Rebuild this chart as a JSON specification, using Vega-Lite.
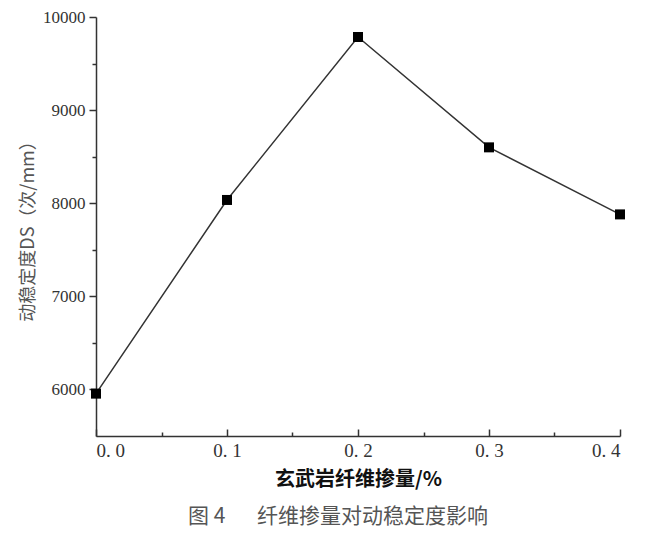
{
  "$schema": "https://vega.github.io/schema/vega-lite/v6.json",
  "width": 524,
  "height": 419,
  "autosize": "none",
  "padding": {"left": 96, "top": 17, "right": 41, "bottom": 108},
  "background": "white",
  "config": {"view": {"stroke": null}, "font": "Liberation Serif"},
  "title": {
    "text": "图 4\u3000\u2002纤维掺量对动稳定度影响",
    "orient": "bottom",
    "anchor": "middle",
    "dx": -20,
    "offset": 17,
    "font": "Noto Sans CJK SC",
    "fontSize": 21,
    "fontWeight": "normal",
    "color": "#555555"
  },
  "data": {
    "values": [
      {"fiber": 0.0, "ds": 5955},
      {"fiber": 0.1, "ds": 8035},
      {"fiber": 0.2, "ds": 9785},
      {"fiber": 0.3, "ds": 8600},
      {"fiber": 0.4, "ds": 7880}
    ]
  },
  "encoding": {
    "x": {
      "field": "fiber",
      "type": "quantitative",
      "scale": {"domain": [0, 0.4], "nice": false, "zero": false},
      "axis": {
        "title": "玄武岩纤维掺量/%",
        "titleFont": "Noto Sans CJK SC",
        "titleFontSize": 20,
        "titleFontWeight": "bold",
        "titleColor": "#111111",
        "titlePadding": 9,
        "values": [0, 0.05, 0.1, 0.15, 0.2, 0.25, 0.3, 0.35, 0.4],
        "labelExpr": "abs(datum.value*10 - round(datum.value*10)) > 0.01 ? '' : replace(format(datum.value, '.1f'), '.', '. ')",
        "labelFont": "Liberation Serif",
        "labelFontSize": 19,
        "labelColor": "#333333",
        "labelPadding": 12,
        "domainColor": "#333333",
        "domainWidth": 1.5,
        "tickColor": "#333333",
        "tickWidth": 1.5,
        "tickSize": {"condition": {"test": "abs(datum.value*10 - round(datum.value*10)) > 0.01", "value": -4}, "value": -7},
        "grid": false
      }
    },
    "y": {
      "field": "ds",
      "type": "quantitative",
      "scale": {"domain": [5500, 10000], "nice": false, "zero": false},
      "axis": {
        "title": "动稳定度DS（次/mm）",
        "titleFont": "Noto Sans CJK SC",
        "titleFontSize": 18,
        "titleFontWeight": "normal",
        "titleColor": "#555555",
        "titlePadding": 5,
        "values": [6000, 6500, 7000, 7500, 8000, 8500, 9000, 9500, 10000],
        "labelExpr": "datum.value % 1000 != 0 ? '' : format(datum.value, 'd')",
        "labelFont": "Liberation Serif",
        "labelFontSize": 17,
        "labelColor": "#333333",
        "labelPadding": 4,
        "domainColor": "#333333",
        "domainWidth": 1.5,
        "tickColor": "#333333",
        "tickWidth": 1.5,
        "tickSize": {"condition": {"test": "datum.value % 1000 != 0", "value": 4}, "value": 7},
        "grid": false
      }
    }
  },
  "layer": [
    {"mark": {"type": "line", "color": "#333333", "strokeWidth": 1.5}},
    {"mark": {"type": "point", "shape": "square", "filled": true, "color": "#000000", "size": 100, "opacity": 1}}
  ]
}
